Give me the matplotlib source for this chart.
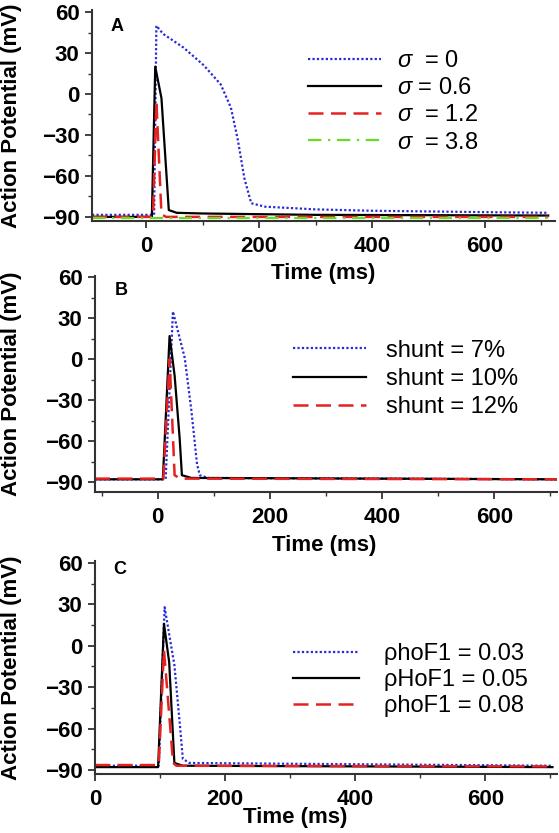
import matplotlib
matplotlib.use('Agg')
import matplotlib.pyplot as plt
from matplotlib.ticker import MultipleLocator

plt.rcParams['font.family'] = ['Liberation Sans', 'DejaVu Sans']
plt.rcParams['mathtext.fontset'] = 'custom'
plt.rcParams['mathtext.it'] = 'Liberation Sans:italic'
plt.rcParams['mathtext.rm'] = 'Liberation Sans'

# ---- panel A: sigma ----
a_labels = ['$\\sigma$  = 0', '$\\sigma$ = 0.6', '$\\sigma$  = 1.2', '$\\sigma$  = 3.8']
a_t0 = [-96, 14, 18, 30, 66, 102, 132, 150, 162, 174, 186, 210, 300, 400, 500, 600, 712]
a_v0 = [-88.5, -88.5, 50, 44, 34, 21, 7, -10, -33, -62, -80, -82.5, -84.5, -85.5, -86, -86.5, -87]
a_t1 = [-96, 10, 16, 27, 40, 54, 100, 300, 712]
a_v1 = [-90, -90, 20, -3, -85, -87, -87.5, -88.5, -89]
a_t2 = [-96, 12, 18, 27, 35, 712]
a_v2 = [-90, -90, -5, -88, -90, -90]
a_t3 = [-96, 712]
a_v3 = [-90.5, -90.5]

# ---- panel B: shunt ----
b_labels = ['shunt = 7%', 'shunt = 10%', 'shunt = 12%']
b_t0 = [-112, 14, 27, 48, 60, 70, 75, 90, 712]
b_v0 = [-88, -88, 35, 1, -38, -77, -85, -87, -88]
b_t1 = [-112, 9, 21, 30, 39, 43, 60, 712]
b_v1 = [-88, -88, 17, -12, -58, -85, -87, -88]
b_t2 = [-112, 10, 21, 30, 40, 712]
b_v2 = [-87.5, -87.5, 0, -85, -87.5, -88]

# ---- panel C: rhoF1 ----
c_labels = ['\u03c1hoF1 = 0.03', '\u03c1HoF1 = 0.05', '\u03c1hoF1 = 0.08']
c_t0 = [0, 98, 107, 122, 130, 135, 145, 703]
c_v0 = [-87, -87, 28, -14, -55, -82, -85, -87]
c_t1 = [0, 97, 106, 114, 122, 135, 703]
c_v1 = [-88, -88, 16, -12, -85, -87, -88]
c_t2 = [0, 98, 106, 120, 125, 703]
c_v2 = [-86.5, -86.5, -3, -85, -87, -87.5]

styles = [
    dict(color='#2a2ad6', linestyle=(0, (1, 1)), linewidth=1.6),
    dict(color='black', linestyle='-', linewidth=1.6),
    dict(color='#e52222', linestyle=(0, (6, 3)), linewidth=1.8),
    dict(color='#66dd22', linestyle=(0, (6, 3, 1, 3)), linewidth=1.6),
]

W, H = 559, 833
fig = plt.figure(figsize=(W / 100, H / 100), dpi=100)


def make_axes(x0, x1, y0, y1):
    # pixel box -> figure fraction
    ax = fig.add_axes([x0 / W, 1 - y1 / H, (x1 - x0) / W, (y1 - y0) / H])
    ax.patch.set_visible(False)
    return ax


ax_a = make_axes(92, 555, 10, 221)
ax_b = make_axes(95, 557, 276, 492)
ax_c = make_axes(95, 557, 561, 774)

panels = [
    # ax, letter, series, labels, xlim, ylim, legend pos, handlelength, textpad,
    # labelspacing, letter pos, ylabel centre y (px), xlabel centre (px)
    (ax_a, 'A', [(a_t0, a_v0), (a_t1, a_v1), (a_t2, a_v2), (a_t3, a_v3)], a_labels,
     (-96, 724), (-93, 61.5), (0.467, 0.81), 3.1, 0.65, 0.22, (0.039, 0.962),
     116, (323, 273)),
    (ax_b, 'B', [(b_t0, b_v0), (b_t1, b_v1), (b_t2, b_v2)], b_labels,
     (-112, 712), (-97.3, 61), (0.429, 0.705), 3.1, 0.85, 0.27, (0.043, 0.972),
     384, (324, 545)),
    (ax_c, 'C', [(c_t0, c_v0), (c_t1, c_v1), (c_t2, c_v2)], c_labels,
     (0, 710), (-93, 61.5), (0.429, 0.615), 2.8, 1.05, 0.17, (0.039, 1.0),
     668, (295, 818)),
]

for (ax, letter, series, labels, xlim, ylim, lpos, hlen, hpad, lsp, let_pos,
     yl_y, xl_xy) in panels:
    for (t, v), lab, st in zip(series, labels, styles):
        ax.plot(t, v, label=lab, **st)
    ax.set_xlim(*xlim)
    ax.set_ylim(*ylim)
    ax.set_yticks([-90, -60, -30, 0, 30, 60])
    ax.yaxis.set_minor_locator(MultipleLocator(15))
    ax.set_xticks([0, 200, 400, 600])
    ax.xaxis.set_minor_locator(MultipleLocator(100))
    for s in ['top', 'right']:
        ax.spines[s].set_visible(False)
    for s in ['left', 'bottom']:
        ax.spines[s].set_linewidth(1.5)
        ax.spines[s].set_color('#333333')
    ax.tick_params(which='major', direction='out', length=5, width=1.3,
                   color='#333333', labelsize=16)
    ax.tick_params(axis='y', which='major', pad=4)
    ax.tick_params(axis='x', which='major', pad=6)
    ax.tick_params(which='minor', direction='out', length=3, width=1.0, color='#333333')
    for lbl in ax.get_xticklabels() + ax.get_yticklabels():
        lbl.set_fontweight('bold')

    ax.set_xlabel('Time (ms)', fontsize=16, fontweight='bold', va='center')
    ax.xaxis.set_label_coords(xl_xy[0] / W, 1 - xl_xy[1] / H, transform=fig.transFigure)
    ax.set_ylabel('Action Potential (mV)', fontsize=16, fontweight='bold', va='center')
    ax.yaxis.set_label_coords(12 / W, 1 - yl_y / H, transform=fig.transFigure)

    ax.text(let_pos[0], let_pos[1], letter, transform=ax.transAxes, fontsize=13,
            fontweight='bold', va='top', ha='left')
    ax.legend(loc='upper left', bbox_to_anchor=lpos, frameon=False, fontsize=17,
              borderpad=0, borderaxespad=0, handlelength=hlen, handletextpad=hpad,
              labelspacing=lsp)

fig.savefig('out.png', dpi=100)
